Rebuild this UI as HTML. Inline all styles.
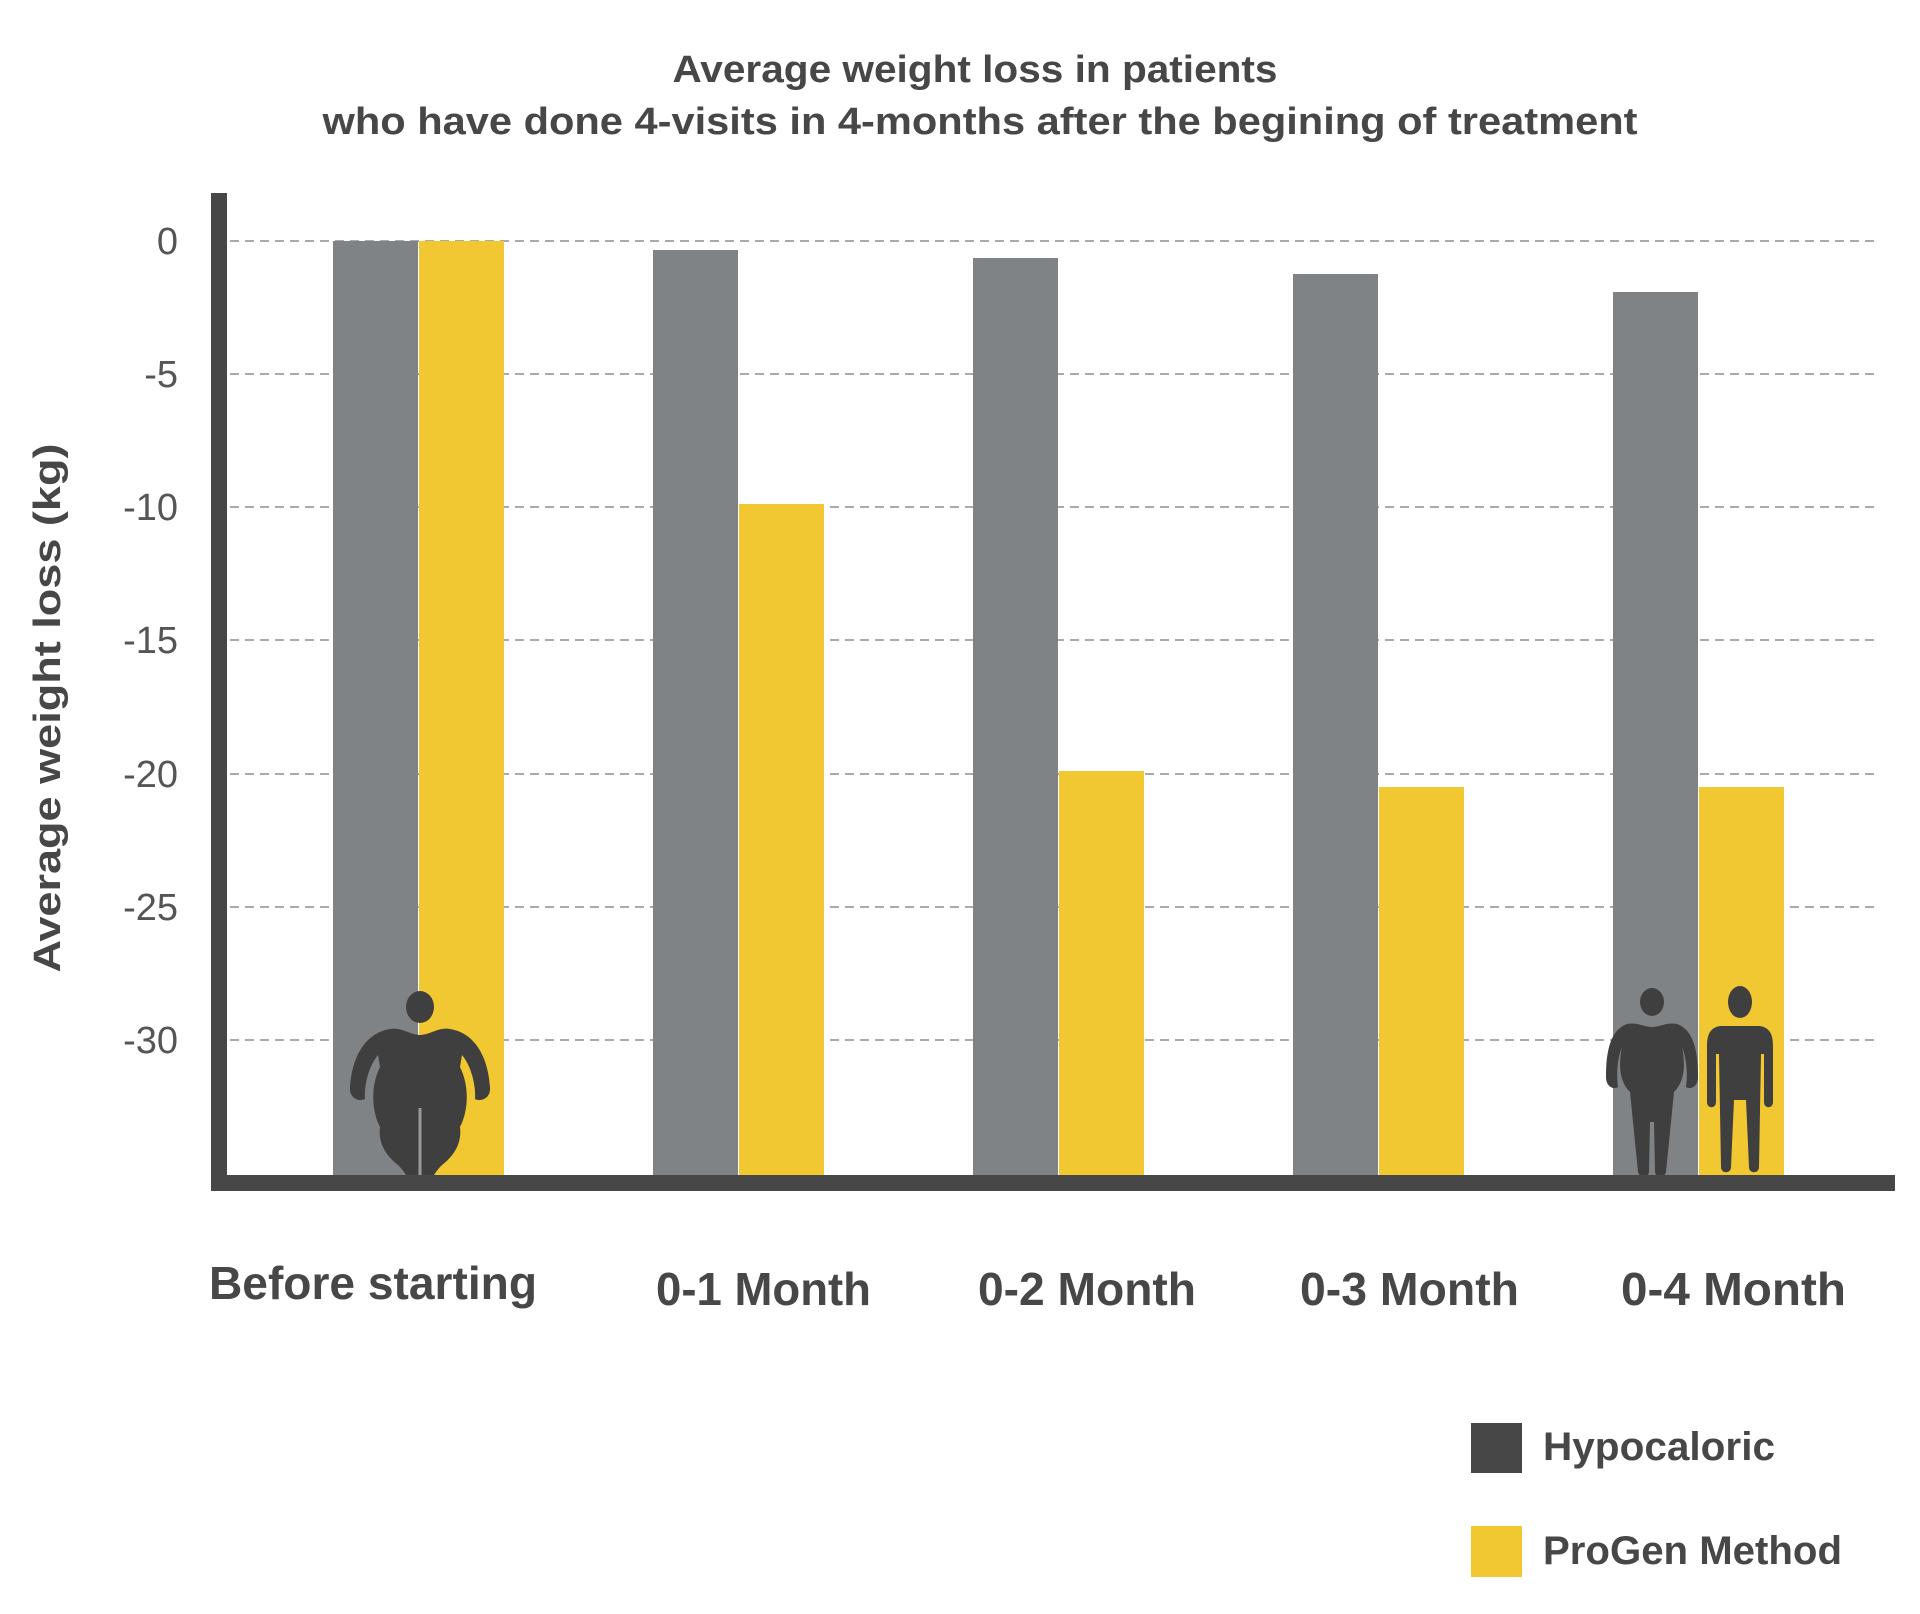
<!DOCTYPE html>
<html><head><meta charset="utf-8"><style>html,body{margin:0;padding:0;background:#fff}svg{display:block}</style></head>
<body>
<svg width="1920" height="1614" viewBox="0 0 1920 1614" xmlns="http://www.w3.org/2000/svg" font-family="Liberation Sans, sans-serif">
<defs>
<g id="fat">
  <ellipse cx="0" cy="0" rx="14" ry="16"/>
  <path d="M-30,22 C-55,26 -68,50 -70,80 C-71,92 -60,95 -55,92 C-56,80 -52,60 -42,48 L-40,60 C-50,80 -48,105 -40,120 C-42,135 -35,148 -22,158 C-14,166 -12,172 -10,178 L10,178 C12,172 14,166 22,158 C35,148 42,135 40,120 C48,105 50,80 40,60 L42,48 C52,60 56,80 55,92 C60,95 71,92 70,80 C68,50 55,26 30,22 C18,20 10,28 0,28 C-10,28 -18,20 -30,22 Z"/>
</g>
<g id="fat2">
  <ellipse cx="0" cy="0" rx="12" ry="14"/>
  <path d="M-25,22 C-42,28 -46,50 -46,75 C-46,85 -38,88 -34,85 C-36,70 -34,55 -30,45 C-34,65 -32,80 -22,90 L-14,170 C-12,177 -4,177 -3,170 L-2,120 L2,120 L3,170 C4,177 12,177 14,170 L22,90 C32,80 34,65 30,45 C34,55 36,70 34,85 C38,88 46,85 46,75 C46,50 42,28 25,22 C15,20 8,25 0,25 C-8,25 -15,20 -25,22 Z"/>
</g>
<g id="thin">
  <ellipse cx="0" cy="0" rx="12" ry="16"/>
  <path d="M-20,24 C-32,26 -33,36 -33,45 L-33,100 C-33,107 -24,107 -24,100 L-24,52 L-21,52 L-19,165 C-19,172 -9,172 -9,165 L-6,98 L6,98 L9,165 C9,172 19,172 19,165 L21,52 L24,52 L24,100 C24,107 33,107 33,100 L33,45 C33,36 32,26 20,24 Z"/>
</g>
</defs>
<g fill="#474747" font-weight="bold">
<text x="975" y="82" font-size="38" text-anchor="middle" textLength="605" lengthAdjust="spacingAndGlyphs">Average weight loss in patients</text>
<text x="980" y="134" font-size="38" text-anchor="middle" textLength="1315" lengthAdjust="spacingAndGlyphs">who have done 4-visits in 4-months after the begining of treatment</text>
</g>
<g stroke="#aaa" stroke-width="2" stroke-dasharray="9,6">
<line x1="230" y1="241" x2="1875" y2="241"/>
<line x1="230" y1="374" x2="1875" y2="374"/>
<line x1="230" y1="507" x2="1875" y2="507"/>
<line x1="230" y1="640" x2="1875" y2="640"/>
<line x1="230" y1="774" x2="1875" y2="774"/>
<line x1="230" y1="907" x2="1875" y2="907"/>
<line x1="230" y1="1040" x2="1875" y2="1040"/>
</g>
<g fill="#555" font-size="38" text-anchor="end">
<text x="178" y="254">0</text>
<text x="178" y="387">-5</text>
<text x="178" y="520">-10</text>
<text x="178" y="653">-15</text>
<text x="178" y="787">-20</text>
<text x="178" y="920">-25</text>
<text x="178" y="1053">-30</text>
</g>
<text transform="translate(60,708) rotate(-90)" fill="#474747" font-weight="bold" font-size="38" text-anchor="middle" textLength="529" lengthAdjust="spacingAndGlyphs">Average weight loss (kg)</text>
<g fill="#808386">
<rect x="333" y="241" width="85" height="935"/>
<rect x="653" y="250" width="85" height="926"/>
<rect x="973" y="258" width="85" height="918"/>
<rect x="1293" y="274" width="85" height="902"/>
<rect x="1613" y="292" width="85" height="884"/>
</g>
<g fill="#F2C832">
<rect x="419" y="241" width="85" height="935"/>
<rect x="739" y="504" width="85" height="672"/>
<rect x="1059" y="771" width="85" height="405"/>
<rect x="1379" y="787" width="85" height="389"/>
<rect x="1699" y="787" width="85" height="389"/>
</g>
<g fill="#3f3f3f">
<use href="#fat" x="420" y="1007"/>
<use href="#fat2" x="1652" y="1002"/>
<use href="#thin" x="1740" y="1002"/>
</g>
<line x1="420" y1="1108" x2="420" y2="1178" stroke="#999" stroke-width="3"/>
<rect x="211" y="193" width="16" height="998" fill="#474747"/>
<rect x="211" y="1175" width="1684" height="16" fill="#474747"/>
<g fill="#474747" font-weight="bold" font-size="46">
<text x="209" y="1299" textLength="328" lengthAdjust="spacingAndGlyphs">Before starting</text>
<text x="656" y="1305" textLength="215" lengthAdjust="spacingAndGlyphs">0-1 Month</text>
<text x="978" y="1305" textLength="218" lengthAdjust="spacingAndGlyphs">0-2 Month</text>
<text x="1300" y="1305" textLength="219" lengthAdjust="spacingAndGlyphs">0-3 Month</text>
<text x="1621" y="1305" textLength="225" lengthAdjust="spacingAndGlyphs">0-4 Month</text>
</g>
<rect x="1471" y="1423" width="51" height="50" fill="#474747"/>
<rect x="1471" y="1526" width="51" height="51" fill="#F2C832"/>
<g fill="#474747" font-weight="bold" font-size="40">
<text x="1543" y="1460" textLength="232" lengthAdjust="spacingAndGlyphs">Hypocaloric</text>
<text x="1543" y="1564" textLength="299" lengthAdjust="spacingAndGlyphs">ProGen Method</text>
</g>
</svg>
</body></html>
